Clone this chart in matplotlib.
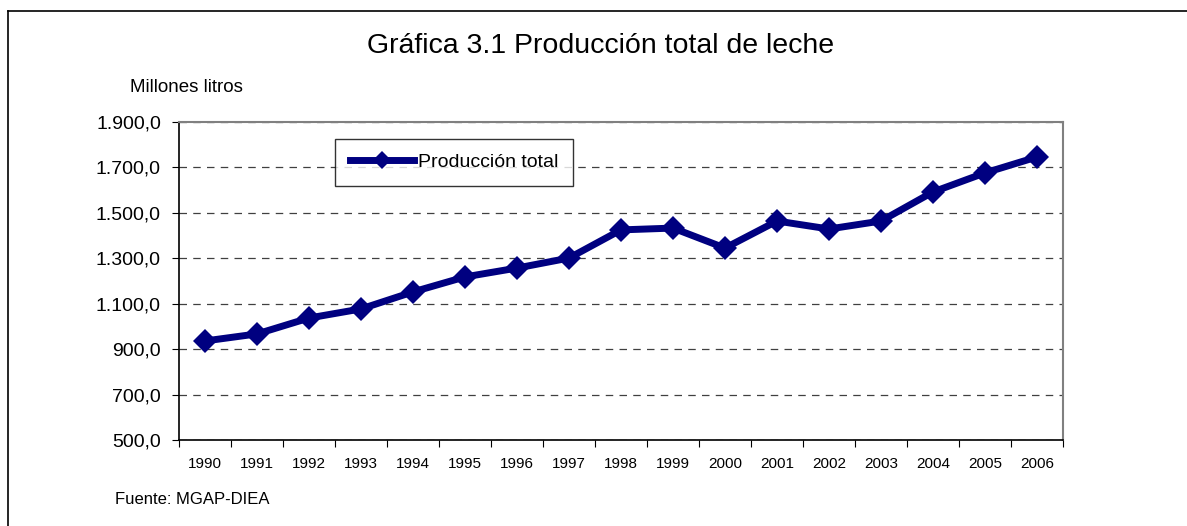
import matplotlib
matplotlib.use("Agg")
import matplotlib.pyplot as plt
from matplotlib.lines import Line2D

plt.rcParams['font.family'] = ['Liberation Sans', 'DejaVu Sans']

# datos (millones de litros)
anios = ['1990', '1991', '1992', '1993', '1994', '1995', '1996', '1997', '1998',
         '1999', '2000', '2001', '2002', '2003', '2004', '2005', '2006']
produccion = [936, 967, 1037, 1077, 1152, 1218, 1257, 1301, 1425,
              1433, 1345, 1464, 1429, 1464, 1592, 1676, 1746]
y_ticks = [500, 700, 900, 1100, 1300, 1500, 1700, 1900]
y_labels = ['500,0', '700,0', '900,0', '1.100,0', '1.300,0', '1.500,0', '1.700,0', '1.900,0']

fig = plt.figure(figsize=(11.87, 5.26), dpi=100)
W, H = 1187, 526

# marco exterior (solo arriba e izquierda)
fig.add_artist(Line2D([7.5 / W, 7.5 / W], [0, 1 - 11 / H], color='black', lw=1.2))
fig.add_artist(Line2D([7.5 / W, 1], [1 - 11 / H, 1 - 11 / H], color='black', lw=1.2))

ax = fig.add_axes([179 / W, 1 - 440 / H, (1063 - 179) / W, (440 - 122) / H])

x = list(range(len(anios)))
ax.plot(x, produccion, color='#000080', lw=5, marker='D', markersize=12.5,
        markeredgewidth=0, label='Producción total', zorder=3)

ax.set_xlim(-0.5, len(anios) - 0.5)
ax.set_ylim(500, 1900)

ax.set_yticks(y_ticks)
ax.set_yticklabels(y_labels, fontsize=14)
ax.yaxis.grid(True, linestyle=(0, (6, 5)), color='#404040', lw=0.9)
ax.set_axisbelow(True)

# ticks del eje x en los límites de las categorías, etiquetas centradas
ax.set_xticks([i - 0.5 for i in range(len(anios) + 1)])
ax.set_xticklabels([])
ax.set_xticks(x, minor=True)
ax.set_xticklabels(anios, minor=True, fontsize=11)
ax.tick_params(axis='x', which='minor', length=0, pad=12)
ax.tick_params(axis='x', which='major', length=5, width=0.8, direction='out')
ax.tick_params(axis='y', length=5, width=0.8, direction='out', pad=8)

for s in ['top', 'right']:
    ax.spines[s].set_color('#808080')
    ax.spines[s].set_linewidth(1.5)
for s in ['left', 'bottom']:
    ax.spines[s].set_color('black')
    ax.spines[s].set_linewidth(1.2)

leg = ax.legend(loc='upper left', bbox_to_anchor=((335 - 179) / (1063 - 179), 1 - (139 - 122) / (440 - 122)),
                fontsize=14, frameon=True, fancybox=False, edgecolor='black',
                handlelength=3.3, handletextpad=0.2, borderpad=0.75, borderaxespad=0,
                markerscale=0.7)
leg.get_frame().set_linewidth(1.0)
leg._legend_box.sep = 0

fig.text(601 / W, 1 - 46 / H, 'Gráfica 3.1 Producción total de leche', fontsize=20.5,
         ha='center', va='center')
fig.text(186 / W, 1 - 87 / H, 'Millones litros', fontsize=13.5, ha='center', va='center')
fig.text(115 / W, 1 - 499 / H, 'Fuente: MGAP-DIEA', fontsize=12, ha='left', va='center')

fig.savefig('out.png', dpi=100, facecolor='white')
